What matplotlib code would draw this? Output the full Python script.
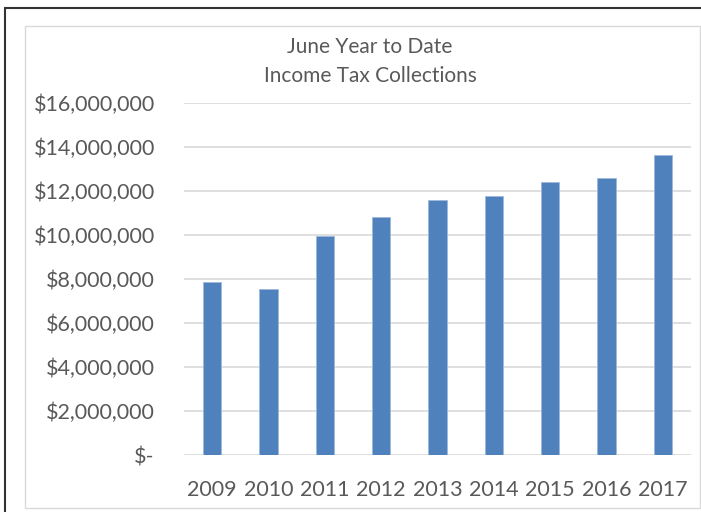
import matplotlib
matplotlib.use("Agg")
import matplotlib.pyplot as plt
from matplotlib.patches import Rectangle
from matplotlib.ticker import FuncFormatter

years = ["2009", "2010", "2011", "2012", "2013", "2014", "2015", "2016", "2017"]
collections = [7850000, 7530000, 9970000, 10800000, 11600000,
               11760000, 12410000, 12600000, 13650000]
y_ticks = [0, 2000000, 4000000, 6000000, 8000000, 10000000,
           12000000, 14000000, 16000000]

plt.rcParams["font.family"] = ["Lato", "DejaVu Sans"]
W, H = 701, 512
fig = plt.figure(figsize=(W / 100, H / 100), dpi=100)

# outer frame (dark) and chart-area frame (light gray)
fig.patches.append(Rectangle((5 / W, -0.1), 2.0, (H - 8) / H + 0.1,
                             transform=fig.transFigure, fill=False,
                             edgecolor="#333333", lw=1.5))
fig.patches.append(Rectangle((25 / W, (H - 508) / H), (700 - 25) / W, (508 - 26) / H,
                             transform=fig.transFigure, fill=False,
                             edgecolor="#d9d9d9", lw=1.0))

ax = fig.add_axes([184 / W, (H - 455) / H, (691 - 184) / W, (455 - 103) / H])
x = range(len(years))
ax.bar(x, collections, width=0.32, color="#4f81bd", edgecolor="#9db9dc", lw=0.6, zorder=3)
ax.set_xlim(-0.5, len(years) - 0.5)
ax.set_ylim(0, 16000000)
ax.set_yticks(y_ticks)
ax.set_xticks(list(x))
ax.set_xticklabels(years)


def money(v, pos):
    return "$-" if v == 0 else f"${v:,.0f}"


ax.yaxis.set_major_formatter(FuncFormatter(money))
ax.grid(axis="y", color="#d9d9d9", lw=1.2, zorder=0)
for s in ax.spines.values():
    s.set_visible(False)
ax.tick_params(axis="y", length=0, labelsize=15.5, colors="#595959", pad=21)
ax.tick_params(axis="x", length=0, labelsize=15.5, colors="#595959", pad=18)

fig.text(370 / W, 1 - 47 / H, "June Year to Date", ha="center", va="center",
         fontsize=15, color="#595959")
fig.text(370 / W, 1 - 76 / H, "Income Tax Collections", ha="center", va="center",
         fontsize=15, color="#595959")

fig.savefig("out.png", dpi=100)
